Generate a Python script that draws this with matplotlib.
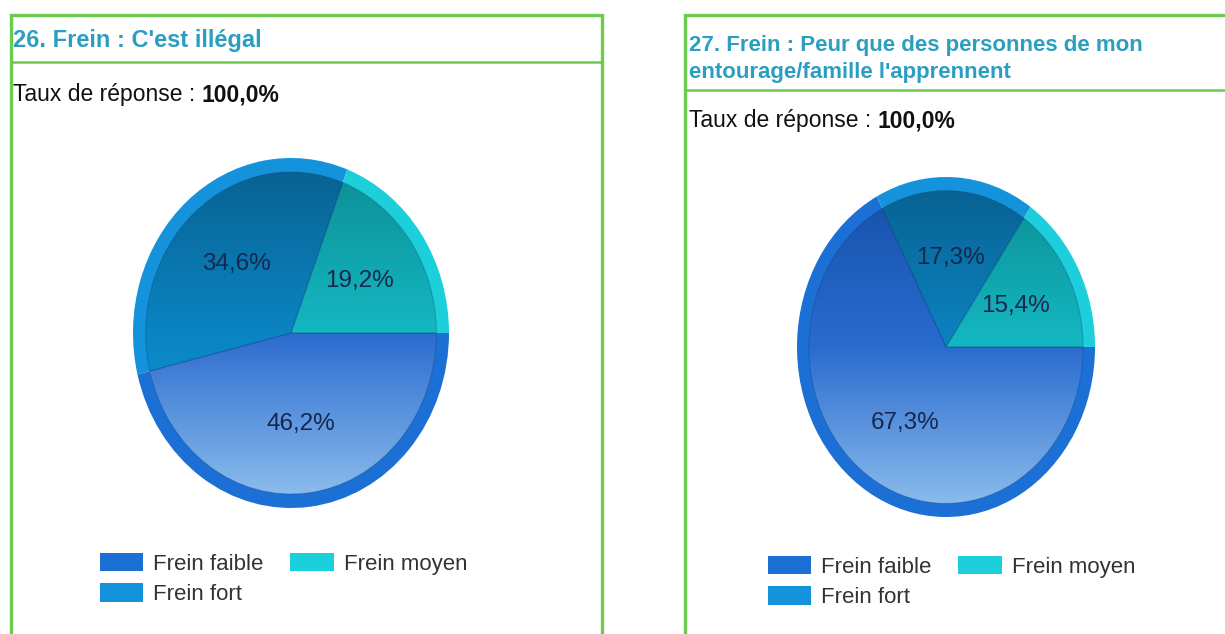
import matplotlib
matplotlib.use('agg')
from matplotlib import pyplot as plt
from matplotlib.colors import LinearSegmentedColormap
import numpy as np

W, H = 1225, 634

labels = ['Frein faible', 'Frein fort', 'Frein moyen']
q26_values = [46.2, 34.6, 19.2]
q27_values = [67.3, 17.3, 15.4]
q26_title = "26. Frein : C'est illégal"
q27_title = "27. Frein : Peur que des personnes de mon\nentourage/famille l'apprennent"
rate_label = 'Taux de réponse : '
rate_value = '100,0%'

ring_colors = ['#1b6fd5', '#1493dc', '#1ccfda']
# top / middle / bottom colours of the shaded inside of each slice
fill_colors = [
    ['#1450a8', '#2a6bcf', '#92c2ee'],
    ['#08608f', '#0b84c2', '#0aa0e0'],
    ['#0c8c92', '#14b8c2', '#22d6de'],
]

GREEN = '#6acb4f'
TITLE_BLUE = '#2c9ec0'
FONT = ['Liberation Sans', 'DejaVu Sans']


def box(x0, y0, w, h):
    # pixel box (top-left origin) -> figure fraction rect
    return [x0 / W, 1 - (y0 + h) / H, w / W, h / H]


def fmt_pct(p):
    return ('%.1f%%' % p).replace('.', ',')


fig = plt.figure(figsize=(W / 100, H / 100), dpi=100)
fig.patch.set_facecolor('white')

# panel frames drawn in pixel space
bg = fig.add_axes([0, 0, 1, 1])
bg.set_xlim(0, W)
bg.set_ylim(H, 0)
bg.axis('off')
bg.plot([11, 11, 602, 602], [640, 15, 15, 640], color=GREEN, lw=2.4, solid_joinstyle='miter')
bg.plot([11, 602], [62, 62], color=GREEN, lw=1.8)
bg.plot([685, 685, 1230], [640, 15, 15], color=GREEN, lw=2.4, solid_joinstyle='miter')
bg.plot([685, 1230], [90, 90], color=GREEN, lw=1.8)

fig.text(13 / W, 1 - 41 / H, q26_title, color=TITLE_BLUE, fontsize=17, fontweight='bold',
         family=FONT, va='center', ha='left')
fig.text(689 / W, 1 - 59 / H, q27_title, color=TITLE_BLUE, fontsize=16, fontweight='bold',
         family=FONT, va='center', ha='left', linespacing=1.4)

renderer = fig.canvas.get_renderer()
for x0, yc in [(13, 95), (689, 121)]:
    t = fig.text(x0 / W, 1 - yc / H, rate_label, color='#111111', fontsize=16.5,
                 family=FONT, va='center', ha='left')
    ext = t.get_window_extent(renderer=renderer)
    fig.text(ext.x1 / W, 1 - yc / H, rate_value, color='#111111', fontsize=16.5,
             fontweight='bold', family=FONT, va='center', ha='left')

grad = np.linspace(0, 1, 256).reshape(-1, 1)


def draw_pie(rect, values, legend_xy):
    ax = fig.add_axes(box(*rect))
    outer, _ = ax.pie(values, colors=ring_colors, startangle=0, counterclock=False,
                      radius=1.0, wedgeprops=dict(linewidth=0))
    inner, _, pcts = ax.pie(values, colors=ring_colors, startangle=0, counterclock=False,
                            radius=0.92, autopct=fmt_pct, pctdistance=0.57,
                            wedgeprops=dict(linewidth=0.8))
    for w, stops in zip(inner, fill_colors):
        cmap = LinearSegmentedColormap.from_list('slice', stops)
        im = ax.imshow(grad, cmap=cmap, extent=(-1, 1, -1, 1), origin='upper',
                       aspect='auto', zorder=2)
        im.set_clip_path(w)
        w.set_facecolor('none')
        w.set_edgecolor((0.05, 0.2, 0.4, 0.25))
        w.set_zorder(2.5)
    for t in pcts:
        t.set_color('#16284f')
        t.set_fontsize(17.5)
        t.set_family(FONT)
        t.set_zorder(4)
    ax.set_aspect('auto')
    ax.set_xlim(-1, 1)
    ax.set_ylim(-1, 1)
    ax.axis('off')

    lx, ly = legend_xy
    fig.legend(outer, labels, ncol=2, loc='upper left',
               bbox_to_anchor=(lx / W, 1 - ly / H), frameon=False,
               prop=dict(family=FONT, size=16), labelcolor='#333333',
               handlelength=1.95, handleheight=0.9, handletextpad=0.45,
               columnspacing=1.2, labelspacing=0.38, borderpad=0, borderaxespad=0)


draw_pie((133, 158, 316, 350), q26_values, (100, 553))
draw_pie((797, 177, 298, 340), q27_values, (768, 556))

fig.savefig('out.png', dpi=100, facecolor='white')
